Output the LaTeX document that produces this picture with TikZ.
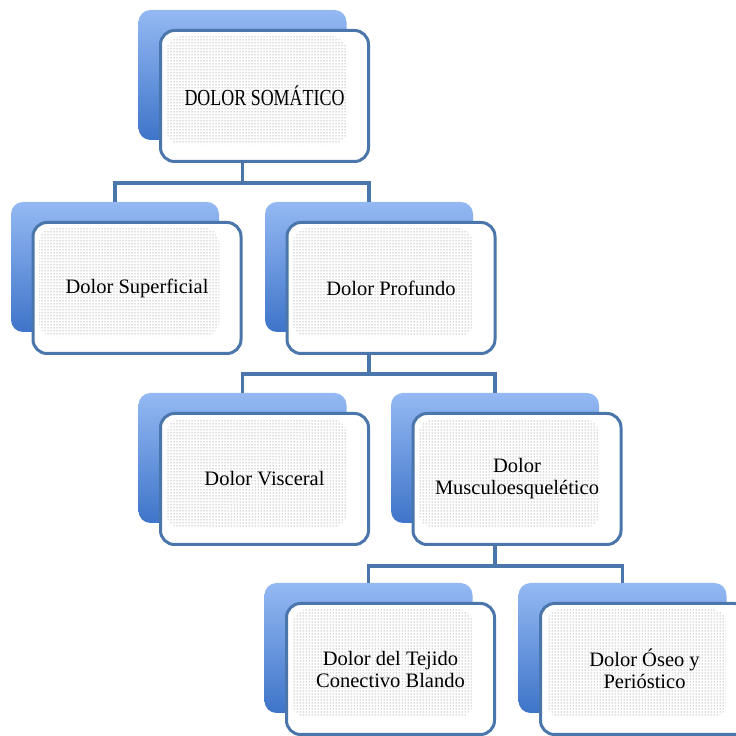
\documentclass[tikz,border=0pt]{standalone}
\usepackage{fontspec}
\setmainfont{Liberation Serif}
\usetikzlibrary{patterns,calc}

\definecolor{edgeblue}{HTML}{4A76AC}
\definecolor{backtop}{HTML}{94B9F3}
\definecolor{backbot}{HTML}{3E74C9}
\definecolor{dotgray}{HTML}{6E6E6E}

\tikzset{
  backbox/.style={rounded corners=12pt, minimum width=208pt, minimum height=130pt,
    inner sep=0pt, top color=backtop, bottom color=backbot, draw=none},
  frontbox/.style={rounded corners=14pt, minimum width=208pt, minimum height=131pt,
    inner sep=0pt, fill=white, draw=edgeblue, line width=3pt, align=center,
    font=\fontsize{20.5}{22}\selectfont,
    path picture={\fill[pattern=dots, pattern color=dotgray]
      ($(path picture bounding box.north west)+(6,-6)$) rectangle
      ($(path picture bounding box.south east)+(-22,17)$);}},
  link/.style={draw=edgeblue, line width=3.5pt},
}

% one entry: back card and front card; #2,#3 = centre of the back card (y measured downwards)
\newcommand\cardpair[4]{%
  \node[backbox] (#1b) at ({#2},{736-#3}) {};
  \node[frontbox] (#1) at ({#2+22},{736-#3-21}) {#4};
}

\begin{document}
\begin{tikzpicture}[x=1pt, y=1pt]
  \useasboundingbox (0,0) rectangle (736,736);
  \clip (0,0) rectangle (736,736);

  \cardpair{n1}{242.5}{75}{\fontsize{23}{24}\selectfont\scalebox{0.78}[1]{DOLOR SOMÁTICO}}
  \cardpair{n2a}{115}{267}{Dolor Superficial}
  \cardpair{n2b}{369}{267}{Dolor Profundo}
  \cardpair{n3a}{242.5}{458}{Dolor Visceral}
  \cardpair{n3b}{495}{458}{Dolor\\Musculoesquelético}
  \cardpair{n4a}{368.5}{648}{Dolor del Tejido\\Conectivo Blando}
  \cardpair{n4b}{622.5}{648}{Dolor Óseo y\\Perióstico}

  % tree connectors
  \coordinate (j1) at ($(n1b |- n1.south)+(0,-20)$);
  \draw[link] (n1b |- n1.south) -- (j1);
  \draw[link] (n2ab.north) |- (j1) -| (n2bb.north);

  \coordinate (j2) at ($(n2bb |- n2b.south)+(0,-19)$);
  \draw[link] (n2bb |- n2b.south) -- (j2);
  \draw[link] (n3ab.north) |- (j2) -| (n3bb.north);

  \coordinate (j3) at ($(n3bb |- n3b.south)+(0,-20)$);
  \draw[link] (n3bb |- n3b.south) -- (j3);
  \draw[link] (n4ab.north) |- (j3) -| (n4bb.north);
\end{tikzpicture}
\end{document}
